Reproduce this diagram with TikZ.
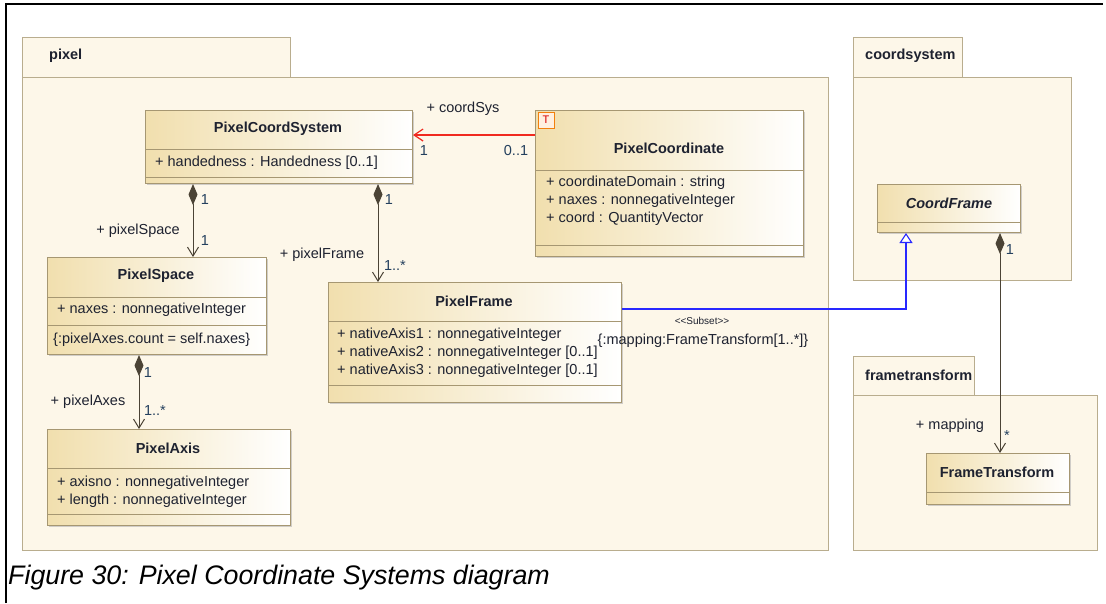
\documentclass[tikz,border=0pt]{standalone}
\usepackage{fontspec}
\setmainfont{Liberation Sans}
\usetikzlibrary{arrows.meta,positioning,shadows}

\definecolor{pkgfill}{HTML}{FDF7E9}
\definecolor{pkgline}{HTML}{B9AD8E}
\definecolor{clsline}{HTML}{A69772}
\definecolor{clsleft}{HTML}{F1DFAE}
\definecolor{txt}{HTML}{1E2230}
\definecolor{multc}{HTML}{24405E}
\definecolor{compline}{HTML}{4B4335}
\definecolor{genblue}{HTML}{2828FF}
\definecolor{navred}{HTML}{F02A20}

\tikzset{
  pkg/.style={draw=pkgline, fill=pkgfill, line width=1pt},
  cls/.style={draw=clsline, line width=1pt, left color=clsleft, right color=white,
    anchor=north west, inner sep=0pt,
    drop shadow={shadow xshift=1.5pt, shadow yshift=-1.5pt, fill=black!30, opacity=.6}},
  cmp/.style={draw=clsline, line width=1pt},
  clsname/.style={font=\fontsize{14.5}{17}\selectfont\bfseries, text=txt, inner sep=0pt},
  attr/.style={font=\fontsize{14.5}{17}\selectfont, text=txt, anchor=west, inner sep=0pt,
    text height=10.5pt, text depth=3pt},
  pkgname/.style={font=\fontsize{14.5}{17}\selectfont\bfseries, text=txt, anchor=west, inner sep=0pt},
  role/.style={font=\fontsize{14.5}{17}\selectfont, text=txt, inner sep=0pt},
  mult/.style={font=\fontsize{14.5}{17}\selectfont, text=multc, inner sep=0pt},
  compos/.style={draw=compline, line width=1pt,
    {Diamond[length=21pt,width=9pt]}-{Straight Barb[length=9pt,width=11pt]}},
}

\begin{document}
\begin{tikzpicture}[x=1pt, y=-1pt]
\useasboundingbox (0,0) rectangle (1106,603);
\draw[black, line width=1.5pt] (6,603) -- (6,4) -- (1103,4);

% packages
\draw[pkg] (22,37) rectangle (290,77);
\draw[pkg] (22,77) rectangle (828,550);
\node[pkgname] (pixelP) at (49,56) {pixel};
\draw[pkg] (853,37) rectangle (962,77);
\draw[pkg] (853,77) rectangle (1071,280);
\node[pkgname] (coordP) at (865,56) {coordsystem};
\draw[pkg] (853,356) rectangle (974,395);
\draw[pkg] (853,395) rectangle (1097,550);
\begin{scope}
\clip (853,356) rectangle (972,395);
\node[pkgname] (ftrP) at (865,375) {frametransform};
\end{scope}

% classes
\node[cls, minimum width=267pt, minimum height=73pt] (pcs) at (145,110) {};
\draw[cmp] ([yshift=-39pt]pcs.north west) -- ([yshift=-39pt]pcs.north east);
\draw[cmp] ([yshift=-67pt]pcs.north west) -- ([yshift=-67pt]pcs.north east);
\node[clsname] (pcsN) at (278,129) {PixelCoordSystem};
\node[attr] (pcsA) at (155,163) {+ handedness : Handedness [0..1]};

\node[cls, minimum width=268pt, minimum height=146pt] (pco) at (535,110) {};
\draw[cmp] ([yshift=-60pt]pco.north west) -- ([yshift=-60pt]pco.north east);
\draw[cmp] ([yshift=-135pt]pco.north west) -- ([yshift=-135pt]pco.north east);
\node[draw=orange!80!brown, fill=orange!12, line width=1pt, minimum size=16pt, inner sep=0pt,
  font=\fontsize{11}{12}\selectfont, text=red!85!black] (pcoT) at (546,120) {T};
\node[clsname] (pcoN) at (669,148) {PixelCoordinate};
\node[attr] (pcoA1) at (546,183) {+ coordinateDomain : string};
\node[attr] (pcoA2) at (546,201) {+ naxes : nonnegativeInteger};
\node[attr] (pcoA3) at (546,219) {+ coord : QuantityVector};

\node[cls, minimum width=219pt, minimum height=97pt] (psp) at (47,257) {};
\draw[cmp] ([yshift=-40pt]psp.north west) -- ([yshift=-40pt]psp.north east);
\draw[cmp] ([yshift=-68pt]psp.north west) -- ([yshift=-68pt]psp.north east);
\node[clsname] (pspN) at (156,276) {PixelSpace};
\node[attr] (pspA) at (57,310) {+ naxes : nonnegativeInteger};
\node[attr] (pspC) at (53,340) {\{:pixelAxes.count = self.naxes\}};

\node[cls, minimum width=293pt, minimum height=120pt] (pfr) at (328,282) {};
\draw[cmp] ([yshift=-39pt]pfr.north west) -- ([yshift=-39pt]pfr.north east);
\draw[cmp] ([yshift=-103pt]pfr.north west) -- ([yshift=-103pt]pfr.north east);
\node[clsname] (pfrN) at (474,301) {PixelFrame};
\node[attr] (pfrA1) at (337,335) {+ nativeAxis1 : nonnegativeInteger};
\node[attr] (pfrA2) at (337,353) {+ nativeAxis2 : nonnegativeInteger [0..1]};
\node[attr] (pfrA3) at (337,371) {+ nativeAxis3 : nonnegativeInteger [0..1]};

\node[cls, minimum width=243pt, minimum height=96pt] (pax) at (47,429) {};
\draw[cmp] ([yshift=-39pt]pax.north west) -- ([yshift=-39pt]pax.north east);
\draw[cmp] ([yshift=-85pt]pax.north west) -- ([yshift=-85pt]pax.north east);
\node[clsname] (paxN) at (168,448) {PixelAxis};
\node[attr] (paxA1) at (57,483) {+ axisno : nonnegativeInteger};
\node[attr] (paxA2) at (57,501) {+ length : nonnegativeInteger};

\node[cls, minimum width=143pt, minimum height=48pt] (cfr) at (877,184) {};
\draw[cmp] ([yshift=-38pt]cfr.north west) -- ([yshift=-38pt]cfr.north east);
\node[clsname, font=\fontsize{14.5}{17}\selectfont\bfseries\itshape] (cfrN) at (949,203) {CoordFrame};

\node[cls, minimum width=143pt, minimum height=51pt] (ftr) at (926,453) {};
\draw[cmp] ([yshift=-39pt]ftr.north west) -- ([yshift=-39pt]ftr.north east);
\node[clsname] (ftrN) at (997,472) {FrameTransform};

% connectors
\draw[navred, line width=1.2pt, -{Straight Barb[length=9pt,width=12pt]}]
  ([yshift=-25pt]pco.north west) -- ([yshift=-25pt]pcs.north east);
\node[role] (coordSysL) at (463,109) {+ coordSys};
\node[mult] (coordSysM1) at (424,151) {1};
\node[mult] (coordSysM2) at (516,151) {0..1};

\draw[compos] ([xshift=48pt]pcs.south west) -- ([xshift=146pt]psp.north west);
\node[mult] (pspM1) at (205,200) {1};
\node[role] (pspL) at (138,231) {+ pixelSpace};
\node[mult] (pspM2) at (205,241) {1};

\draw[compos] ([xshift=233pt]pcs.south west) -- ([xshift=50pt]pfr.north west);
\node[mult] (pfrM1) at (389,200) {1};
\node[role] (pfrL) at (322,255) {+ pixelFrame};
\node[mult] (pfrM2) at (395,266) {1..*};

\draw[compos] ([xshift=92pt]psp.south west) -- ([xshift=92pt]pax.north west);
\node[mult] (paxM1) at (148,373) {1};
\node[role] (paxL) at (88,402) {+ pixelAxes};
\node[mult] (paxM2) at (155,411) {1..*};

\draw[genblue, line width=1.1pt, -{Triangle[length=10pt,width=13pt,fill=white]}]
  ([yshift=-27pt]pfr.north east) -| ([xshift=29pt]cfr.south west);
\node[font=\fontsize{10}{12}\selectfont, text=txt, inner sep=0pt] (subsetL) at (702,321) {{<}{<}Subset{>}{>}};
\node[role] (subsetC) at (703,341) {\{:mapping:FrameTransform[1..*]\}};

\draw[compos] ([xshift=123pt]cfr.south west) -- ([xshift=74pt]ftr.north west);
\node[mult] (ftrM1) at (1010,250) {1};
\node[role] (ftrL) at (950,426) {+ mapping};
\node[mult] (ftrM2) at (1007,436) {*};

% caption
\node[font=\fontsize{26.8}{30}\selectfont\itshape, text=black, anchor=west, inner sep=0pt] (caption)
  at (8,578) {Figure 30: Pixel Coordinate Systems diagram};
\end{tikzpicture}
\end{document}
